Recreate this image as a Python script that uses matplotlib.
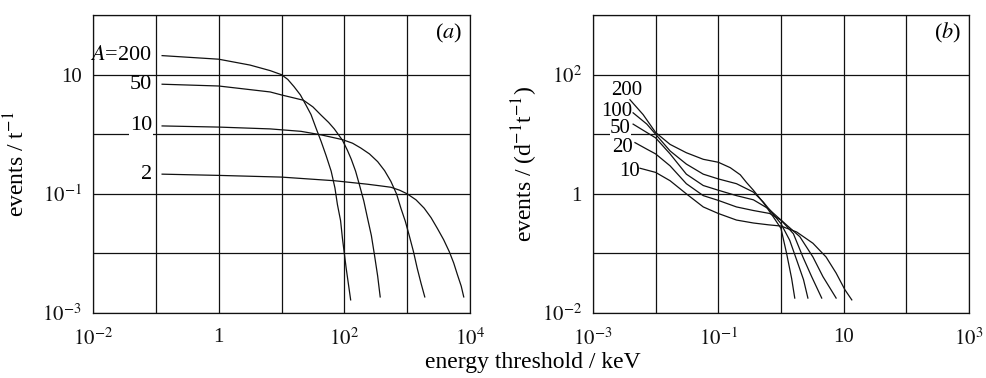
import matplotlib
matplotlib.use("Agg")
import matplotlib.pyplot as plt
import numpy as np

plt.rcParams["font.family"] = ["Liberation Serif", "DejaVu Serif"]
plt.rcParams["mathtext.fontset"] = "stix"

# ---- panel (a): events per tonne vs threshold, by target mass number A ----
a_labels = ["$A$=200", "50", "10", "2"]
a_e200 = [0.126, 1, 3.16, 6.61, 10, 12.6, 15.8, 20.0, 25.1, 29.5, 35.5, 42.7, 51.3,
          61.7, 70.8, 77.6, 87.1, 93.3, 107, 126]
a_r200 = [20.9, 18.2, 14.5, 11.7, 10.0, 8.32, 6.31, 4.57, 2.95, 2.14, 1.26, 0.759, 0.437,
          0.240, 0.126, 0.0661, 0.0355, 0.0178, 0.00562, 0.00166]
a_e50 = [0.126, 1, 6.61, 10, 15.8, 22.4, 31.6, 42.7, 56.2, 69.2, 93.3, 112, 129, 151,
         174, 204, 234, 269, 302, 339, 372]
a_r50 = [6.92, 6.46, 5.13, 4.57, 4.07, 3.72, 2.88, 2.09, 1.58, 1.23, 0.794, 0.537, 0.380,
         0.240, 0.141, 0.0759, 0.0389, 0.0200, 0.00933, 0.00417, 0.00186]
a_e10 = [0.126, 1, 6.61, 20.4, 42.7, 93.3, 135, 182, 251, 339, 437, 550, 676, 794, 933,
         1072, 1259, 1445, 1660, 1905]
a_r10 = [1.38, 1.32, 1.23, 1.12, 0.977, 0.813, 0.708, 0.589, 0.468, 0.347, 0.245, 0.162,
         0.1, 0.0575, 0.0347, 0.0204, 0.0107, 0.00562, 0.00316, 0.00186]
a_e2 = [0.126, 1, 10, 69.2, 234, 398, 550, 759, 1000, 1380, 1862, 2399, 3020, 3802, 4677,
        5495, 6310, 7244, 7943]
a_r2 = [0.214, 0.204, 0.191, 0.166, 0.145, 0.135, 0.129, 0.115, 0.1, 0.0794, 0.0575,
        0.0398, 0.0263, 0.0170, 0.0107, 0.00692, 0.00437, 0.00282, 0.00186]

# ---- panel (b): events per day per tonne ----
b_labels = ["200", "100", "50", "20", "10"]
b_e200 = [0.00389, 0.00631, 0.01, 0.017, 0.0309, 0.0575, 0.1, 0.155, 0.224, 0.282, 0.363,
          0.525, 0.759, 1.0, 1.23, 1.48, 1.66]
b_r200 = [38.0, 21.4, 10.7, 6.76, 4.9, 3.8, 3.39, 2.75, 2.09, 1.55, 1.15, 0.708, 0.407,
          0.263, 0.1, 0.038, 0.0178]
b_e100 = [0.00437, 0.00724, 0.01, 0.017, 0.0309, 0.0575, 0.1, 0.195, 0.363, 0.525, 1.0,
          1.38, 1.78, 2.29, 2.69]
b_r100 = [22.9, 14.8, 10.0, 5.25, 3.16, 2.14, 1.78, 1.48, 1.07, 0.724, 0.316, 0.166,
          0.0776, 0.0363, 0.0178]
b_e50 = [0.00437, 0.00724, 0.01, 0.017, 0.0309, 0.0575, 0.1, 0.195, 0.363, 0.631, 1.0,
         1.58, 2.24, 3.09, 4.47]
b_r50 = [14.8, 10.7, 8.7, 4.68, 2.14, 1.38, 1.15, 0.933, 0.794, 0.562, 0.363, 0.214,
         0.087, 0.0407, 0.0178]
b_e20 = [0.00468, 0.00724, 0.01, 0.017, 0.0309, 0.0575, 0.1, 0.195, 0.363, 0.661, 1.0,
         2.0, 3.24, 4.68, 7.59]
b_r20 = [7.24, 5.62, 4.68, 2.95, 1.48, 0.933, 0.776, 0.603, 0.525, 0.468, 0.363, 0.191,
         0.087, 0.0407, 0.0178]
b_e10 = [0.00562, 0.01, 0.017, 0.0309, 0.0575, 0.1, 0.195, 0.363, 0.631, 1.0, 1.78, 3.24,
         5.25, 7.59, 10.5, 13.5]
b_r10 = [2.69, 2.29, 1.66, 1.0, 0.603, 0.468, 0.363, 0.324, 0.302, 0.288, 0.229, 0.148,
         0.087, 0.0468, 0.0245, 0.0166]

a_xticks = ["$10^{-2}$", "", "1", "", "$10^{2}$", "", "$10^{4}$"]
a_yticks = ["$10^{-3}$", "", "$10^{-1}$", "", "10", ""]
b_xticks = ["$10^{-3}$", "", "$10^{-1}$", "", "10", "", "$10^{3}$"]
b_yticks = ["$10^{-2}$", "", "1", "", "$10^{2}$", ""]

INK = "#111111"

fig = plt.figure(figsize=(9.86, 3.78), dpi=100)
ax1 = fig.add_axes([0.0943, 0.172, 0.3824, 0.788])
ax2 = fig.add_axes([0.6014, 0.172, 0.3813, 0.788])


def style(ax, xlo, xhi, ylo, yhi, xt, yt):
    ax.set_xscale("log"); ax.set_yscale("log")
    ax.set_xlim(10.0 ** xlo, 10.0 ** xhi)
    ax.set_ylim(10.0 ** ylo, 10.0 ** yhi)
    ax.set_xticks(10.0 ** np.arange(xlo, xhi + 1), xt)
    ax.set_yticks(10.0 ** np.arange(ylo, yhi + 1), yt)
    ax.xaxis.set_minor_locator(matplotlib.ticker.NullLocator())
    ax.yaxis.set_minor_locator(matplotlib.ticker.NullLocator())
    ax.grid(True, color=INK, lw=0.9)
    ax.tick_params(length=0, labelsize=15, colors=INK)
    ax.tick_params(axis="x", pad=11)
    ax.tick_params(axis="y", pad=8)
    for s in ax.spines.values():
        s.set_color(INK); s.set_linewidth(0.9)


style(ax1, -2, 4, -3, 2, a_xticks, a_yticks)
style(ax2, -3, 3, -2, 3, b_xticks, b_yticks)

a_curves = [(a_e200, a_r200), (a_e50, a_r50), (a_e10, a_r10), (a_e2, a_r2)]
for (e, r), lab in zip(a_curves, a_labels):
    ax1.plot(e, r, color=INK, lw=0.9)
    t = ax1.text(0.087, r[0], lab, ha="right", va="center", fontsize=16)
    if lab == "10":
        t.set_bbox(dict(facecolor="white", edgecolor="none", pad=0.5))

b_curves = [(b_e200, b_r200), (b_e100, b_r100), (b_e50, b_r50),
            (b_e20, b_r20), (b_e10, b_r10)]
# label centres (keV, rate) placed just left of the curve starts
b_pos = [(0.0034, 55), (0.00237, 24), (0.00275, 12.3), (0.003, 5.9), (0.0039, 2.4)]
for (e, r), lab, (px, py) in zip(b_curves, b_labels, b_pos):
    ax2.plot(e, r, color=INK, lw=0.9)
    t = ax2.text(px, py, lab, ha="center", va="center", fontsize=15)
    if lab == "50":
        t.set_bbox(dict(facecolor="white", edgecolor="none", pad=0.3))

ax1.text(0.978, 0.94, "($a$)", transform=ax1.transAxes, ha="right",
         va="center", fontsize=16)
ax2.text(0.98, 0.94, "($b$)", transform=ax2.transAxes, ha="right",
         va="center", fontsize=16)

ax1.set_ylabel("events / t$^{-1}$", fontsize=17)
ax2.set_ylabel("events / (d$^{-1}$t$^{-1}$)", fontsize=17)
ax1.yaxis.set_label_coords(-0.17, 0.5)
ax2.yaxis.set_label_coords(-0.14, 0.5)
fig.text(0.54, 0.042, "energy threshold / keV", ha="center", va="center",
         fontsize=17)

fig.savefig("out.png", dpi=100)
